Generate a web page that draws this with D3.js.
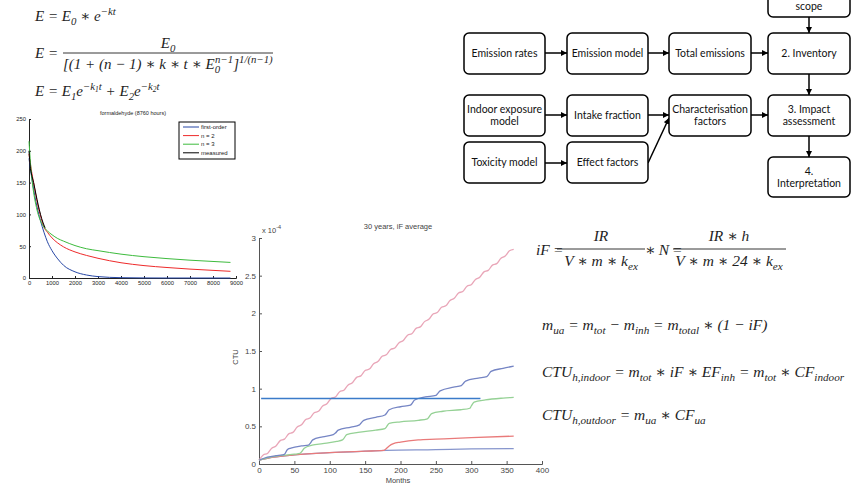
<!DOCTYPE html>
<html>
<head>
<meta charset="utf-8">
<script src="https://cdn.jsdelivr.net/npm/d3@7"></script>
<style>
  body { margin: 0; background: #fff; }
  svg { display: block; }
  .eq { font-family: "Liberation Serif", "DejaVu Serif", serif; font-style: italic; fill: #1f1f1f; }
  .box text { font-family: Lato, "Open Sans", sans-serif; font-size: 10.5px; fill: #111; }
</style>
</head>
<body>
<svg id="slide" width="861" height="485"></svg>
<script>
// ---- chart 1: formaldehyde decay (8760 hours) ----
const hours = [0, 100, 200, 300, 400, 500, 650, 800, 1000, 1250, 1500, 2000, 2500, 3000, 4000, 5000, 6000, 7000, 8000, 8760];
const firstOrder = [188, 162, 140, 120, 104, 90, 72, 57, 43, 30, 20, 9.7, 4.7, 2.2, 0.5, 0.1, 0, 0, 0, 0];
const secondOrder = [195, 170, 150, 130, 112, 98, 80, 72, 63, 55, 49, 41, 35.5, 31, 24, 19.5, 16.5, 14, 12, 10.5];
const thirdOrder = [215, 165, 135, 115, 100, 90, 80, 74, 68, 62, 58, 51, 46, 43, 37.5, 33.5, 30.5, 28, 26, 24.5];
const measuredHours = [0, 50, 100, 200, 300, 400, 500, 600, 700];
const measured = [200, 176, 165, 150, 132, 115, 100, 88, 79];
const decayKeys = ["first-order", "n = 2", "n = 3", "measured"];
const decayColors = ["#2747a5", "#ee2a2a", "#3dbb3d", "#000"];
const hourTicks = [0, 1000, 2000, 3000, 4000, 5000, 6000, 7000, 8000, 9000];
const concTicks = [0, 50, 100, 150, 200, 250];

// ---- chart 2: 30 years, iF average ----
const pinkMonths = [0,6,12,18,24,30,36,42,48,54,60,66,72,78,84,90,96,102,108,114,120,126,132,138,144,150,156,162,168,174,180,186,192,198,204,210,216,222,228,234,240,246,252,258,264,270,276,282,288,294,300,306,312,318,324,330,336,342,348,354,360];
const pinkCTU = [0.05,0.12,0.14,0.21,0.24,0.31,0.33,0.40,0.42,0.49,0.52,0.59,0.61,0.68,0.70,0.77,0.80,0.87,0.89,0.96,0.98,1.05,1.08,1.15,1.17,1.24,1.26,1.33,1.36,1.43,1.45,1.52,1.54,1.61,1.64,1.71,1.73,1.80,1.82,1.89,1.92,1.99,2.01,2.08,2.10,2.17,2.20,2.27,2.29,2.36,2.38,2.45,2.48,2.55,2.57,2.64,2.66,2.73,2.76,2.83,2.85];
const blueMonths = [0,12,24,33,36,40,45,60,70,72,76,90,105,108,112,130,142,144,148,165,178,180,184,200,214,216,220,235,250,252,256,275,286,288,292,310,322,324,328,345,360];
const blueCTU = [0.05,0.09,0.11,0.12,0.13,0.19,0.21,0.24,0.25,0.27,0.32,0.36,0.39,0.41,0.45,0.49,0.52,0.54,0.58,0.62,0.65,0.67,0.72,0.76,0.78,0.80,0.85,0.89,0.91,0.93,0.97,1.02,1.04,1.06,1.10,1.14,1.16,1.18,1.23,1.27,1.30];
const greenMonths = [0,12,30,50,58,60,64,75,90,110,118,120,124,140,165,178,180,184,200,225,238,240,244,260,285,298,300,304,320,345,360];
const greenCTU = [0.05,0.08,0.11,0.13,0.14,0.16,0.21,0.25,0.27,0.30,0.32,0.34,0.39,0.42,0.45,0.47,0.49,0.54,0.56,0.58,0.60,0.62,0.67,0.70,0.72,0.74,0.77,0.82,0.85,0.875,0.885];
const redMonths = [0,20,50,100,150,176,178,184,190,200,225,250,300,360];
const redCTU = [0.05,0.09,0.12,0.15,0.17,0.18,0.19,0.24,0.27,0.29,0.32,0.33,0.35,0.37];
const lowMonths = [0,20,50,100,150,180,250,300,360];
const lowCTU = [0.05,0.09,0.12,0.15,0.17,0.18,0.19,0.20,0.205];
const refLevel = 0.87, refStart = 3, refEnd = 313;
const monthTicks = [0, 50, 100, 150, 200, 250, 300, 350, 400];
const ctuTicks = [0, 0.5, 1, 1.5, 2, 2.5, 3];

// ---- flowchart ----
const boxes = [
  { lines: ["scope"], x: 768, y: -30, w: 82, h: 47, ty: 9.5 },
  { lines: ["Emission rates"], x: 464, y: 33, w: 81, h: 41 },
  { lines: ["Emission model"], x: 567, y: 33, w: 81, h: 41 },
  { lines: ["Total emissions"], x: 669, y: 33, w: 82, h: 41 },
  { lines: ["2. Inventory"], x: 768, y: 33, w: 82, h: 41 },
  { lines: ["Indoor exposure", "model"], x: 464, y: 95, w: 81, h: 41 },
  { lines: ["Intake fraction"], x: 567, y: 95, w: 81, h: 41 },
  { lines: ["Characterisation", "factors"], x: 669, y: 95, w: 82, h: 41 },
  { lines: ["3. Impact", "assessment"], x: 768, y: 95, w: 82, h: 41 },
  { lines: ["Toxicity model"], x: 464, y: 142, w: 81, h: 41 },
  { lines: ["Effect factors"], x: 567, y: 142, w: 81, h: 41 },
  { lines: ["4.", "Interpretation"], x: 768, y: 157, w: 82, h: 40 }
];
const arrows = [
  [545, 53, 567, 53], [648, 53, 669, 53], [751, 53, 768, 53], [809, 17, 809, 33],
  [809, 74, 809, 95], [545, 115, 567, 115], [648, 115, 669, 115], [751, 115, 768, 115],
  [545, 163, 567, 163], [648, 163, 669, 118], [809, 136, 809, 157]
];

const svg = d3.select("#slide");

// ================= equations =================
// parts: [text, kind, dx] kind: "" normal, "b" subscript, "p" superscript, "pb" sub inside sup
function mathText(x, y, parts, size, anchor) {
  const t = svg.append("text").attr("class", "eq")
    .attr("x", x).attr("y", y)
    .attr("font-size", size)
    .attr("text-anchor", anchor || "start");
  const shift = { b: size * 0.28, p: -size * 0.42, pb: -size * 0.3 };
  const scale = { b: 0.72, p: 0.72, pb: 0.5 };
  let cur = 0;
  parts.forEach(([s, k, dx]) => {
    const target = k ? shift[k] : 0;
    t.append("tspan")
      .attr("dy", target - cur)
      .attr("dx", dx || 0)
      .attr("font-size", k ? size * scale[k] : size)
      .text(s);
    cur = target;
  });
  return t;
}
function fracLine(x1, x2, y) {
  svg.append("line").attr("x1", x1).attr("x2", x2).attr("y1", y).attr("y2", y)
    .attr("stroke", "#1f1f1f").attr("stroke-width", 0.9);
}

mathText(35, 21, [["E = E"], ["0", "b"], [" ∗ e"], ["−kt", "p"]], 15);
mathText(35, 58, [["E ="]], 15);
mathText(168, 48, [["E"], ["0", "b"]], 15, "middle");
fracLine(63, 273, 53);
mathText(63, 69, [["[(1 + (n − 1) ∗ k ∗ t ∗ E"], ["0", "b"], ["n−1", "p", -5], ["]"], ["1/(n−1)", "p"]], 15);
mathText(35, 96, [["E = E"], ["1", "b"], ["e"], ["−k", "p"], ["1", "pb"], ["t", "p"], [" + E"], ["2", "b"], ["e"], ["−k", "p"], ["2", "pb"], ["t", "p"]], 15);

mathText(536, 255, [["iF\u2009="]], 15.5);
mathText(601, 241, [["IR"]], 15.5, "middle");
fracLine(557, 645, 249);
mathText(601, 266, [["V ∗ m ∗ k"], ["ex", "b"]], 15.5, "middle");
mathText(645, 255, [["∗\u2009N\u2009="]], 15.5);
mathText(729, 241, [["IR ∗ h"]], 15.5, "middle");
fracLine(673, 786, 249);
mathText(729, 266, [["V ∗ m ∗ 24 ∗ k"], ["ex", "b"]], 15.5, "middle");

mathText(542, 330, [["m"], ["ua", "b"], [" = m"], ["tot", "b"], [" − m"], ["inh", "b"], [" = m"], ["total", "b"], [" ∗ (1 − iF)"]], 15.5);
mathText(542, 377, [["CTU"], ["h,indoor", "b"], [" = m"], ["tot", "b"], [" ∗ iF ∗ EF"], ["inh", "b"], [" = m"], ["tot", "b"], [" ∗ CF"], ["indoor", "b"]], 15.5);
mathText(542, 420, [["CTU"], ["h,outdoor", "b"], [" = m"], ["ua", "b"], [" ∗ CF"], ["ua", "b"]], 15.5);

// ================= chart 1 =================
const x1 = d3.scaleLinear().domain([0, 9000]).range([29, 236]);
const y1 = d3.scaleLinear().domain([0, 250]).range([278, 119]);
const c1 = svg.append("g");

c1.append("text").attr("x", 133).attr("y", 115).attr("text-anchor", "middle")
  .attr("font-family", "Arial, 'Liberation Sans', sans-serif")
  .attr("font-size", 5.5).attr("fill", "#222").text("formaldehyde (8760 hours)");

const ax1 = c1.append("g").attr("transform", "translate(0,278)")
  .call(d3.axisBottom(x1).tickValues(hourTicks).tickFormat(d3.format("d")).tickSize(-2).tickPadding(3));
const ay1 = c1.append("g").attr("transform", "translate(29,0)")
  .call(d3.axisLeft(y1).tickValues(concTicks).tickSize(-2).tickPadding(3));
[ax1, ay1].forEach(a => {
  a.select(".domain").attr("stroke", "#222");
  a.selectAll(".tick line").attr("stroke", "#222");
  a.selectAll("text").attr("font-size", 5.8).attr("fill", "#222").attr("font-family", "Arial, 'Liberation Sans', sans-serif");
});

const line1 = d3.line().x(d => x1(d[0])).y(d => y1(d[1])).curve(d3.curveMonotoneX);
const decaySeries = [
  hours.map((h, i) => [h, firstOrder[i]]),
  hours.map((h, i) => [h, secondOrder[i]]),
  hours.map((h, i) => [h, thirdOrder[i]]),
  measuredHours.map((h, i) => [h, measured[i]])
];
c1.selectAll(".decay").data(decaySeries).join("path")
  .attr("class", "decay")
  .attr("fill", "none")
  .attr("stroke", (d, i) => decayColors[i])
  .attr("stroke-width", 1)
  .attr("d", line1);

const leg = c1.append("g").attr("font-family", "Arial, 'Liberation Sans', sans-serif");
leg.append("rect").attr("x", 179).attr("y", 122).attr("width", 56).attr("height", 37)
  .attr("fill", "#fff").attr("stroke", "#000").attr("stroke-width", 1);
leg.selectAll("line").data(decayKeys).join("line")
  .attr("x1", 183).attr("x2", 199)
  .attr("y1", (d, i) => 127 + i * 8.6).attr("y2", (d, i) => 127 + i * 8.6)
  .attr("stroke", (d, i) => decayColors[i]).attr("stroke-width", 1);
leg.selectAll("text").data(decayKeys).join("text")
  .attr("x", 201).attr("y", (d, i) => 129 + i * 8.6)
  .attr("font-size", 6).attr("fill", "#222").text(d => d);

// ================= chart 2 =================
const x2 = d3.scaleLinear().domain([0, 400]).range([259, 542]);
const y2 = d3.scaleLinear().domain([0, 3]).range([464, 238]);
const c2 = svg.append("g").attr("font-family", "Arial, 'Liberation Sans', sans-serif");

c2.append("text").attr("x", 398).attr("y", 229).attr("text-anchor", "middle")
  .attr("font-size", 7.5).attr("fill", "#444").text("30 years, iF average");
const expo = c2.append("text").attr("x", 262).attr("y", 233).attr("font-size", 7.5).attr("fill", "#444");
expo.append("tspan").text("x 10");
expo.append("tspan").attr("dy", -4).attr("font-size", 5.5).text("-4");

const ax2 = c2.append("g").attr("transform", "translate(0,464)")
  .call(d3.axisBottom(x2).tickValues(monthTicks).tickSize(-3).tickPadding(3));
const ay2 = c2.append("g").attr("transform", "translate(259,0)")
  .call(d3.axisLeft(y2).tickValues(ctuTicks).tickFormat(d3.format("~g")).tickSize(-3).tickPadding(3));
[ax2, ay2].forEach(a => {
  a.select(".domain").attr("stroke", "#555");
  a.selectAll(".tick line").attr("stroke", "#555");
  a.selectAll("text").attr("font-size", 8).attr("fill", "#444").attr("font-family", "Arial, 'Liberation Sans', sans-serif");
});
c2.append("text").attr("transform", "translate(238,357) rotate(-90)").attr("text-anchor", "middle")
  .attr("font-size", 7.5).attr("fill", "#444").text("CTU");
c2.append("text").attr("x", 398).attr("y", 483).attr("text-anchor", "middle")
  .attr("font-size", 7.5).attr("fill", "#444").text("Months");

const line2 = d3.line().x(d => x2(d[0])).y(d => y2(d[1])).curve(d3.curveMonotoneX);
const ctuSeries = [
  { c: "#e9a6b8", pts: pinkMonths.map((m, i) => [m, pinkCTU[i]]) },
  { c: "#8796cd", pts: lowMonths.map((m, i) => [m, lowCTU[i]]) },
  { c: "#e97a7a", pts: redMonths.map((m, i) => [m, redCTU[i]]) },
  { c: "#95d195", pts: greenMonths.map((m, i) => [m, greenCTU[i]]) },
  { c: "#7585c4", pts: blueMonths.map((m, i) => [m, blueCTU[i]]) }
];
c2.selectAll(".ctu").data(ctuSeries).join("path")
  .attr("class", "ctu")
  .attr("fill", "none")
  .attr("stroke", d => d.c)
  .attr("stroke-width", 1.3)
  .attr("d", d => line2(d.pts));

c2.append("line")
  .attr("x1", x2(refStart)).attr("x2", x2(refEnd))
  .attr("y1", y2(refLevel)).attr("y2", y2(refLevel))
  .attr("stroke", "#3b7bc9").attr("stroke-width", 1.4);

// ================= flowchart =================
svg.append("defs").append("marker")
  .attr("id", "arr").attr("viewBox", "0 0 10 10").attr("refX", 10).attr("refY", 5)
  .attr("markerWidth", 4).attr("markerHeight", 4).attr("orient", "auto")
  .append("path").attr("d", "M0,0L10,5L0,10z").attr("fill", "#000");

const fc = svg.append("g");
fc.selectAll("line").data(arrows).join("line")
  .attr("x1", d => d[0]).attr("y1", d => d[1]).attr("x2", d => d[2]).attr("y2", d => d[3])
  .attr("stroke", "#000").attr("stroke-width", 1.5).attr("marker-end", "url(#arr)");

const bx = fc.selectAll(".box").data(boxes).join("g").attr("class", "box");
bx.append("rect")
  .attr("x", d => d.x).attr("y", d => d.y).attr("width", d => d.w).attr("height", d => d.h)
  .attr("rx", 5).attr("fill", "#fff").attr("stroke", "#000").attr("stroke-width", 1.5);
bx.each(function (d) {
  const g = d3.select(this);
  const cy = d.y + d.h / 2;
  const n = d.lines.length;
  d.lines.forEach((s, i) => {
    g.append("text")
      .attr("x", d.x + d.w / 2)
      .attr("y", d.ty !== undefined ? d.ty : cy + (i - (n - 1) / 2) * 12 + 3.8)
      .attr("text-anchor", "middle")
      .text(s);
  });
});
</script>
</body>
</html>
